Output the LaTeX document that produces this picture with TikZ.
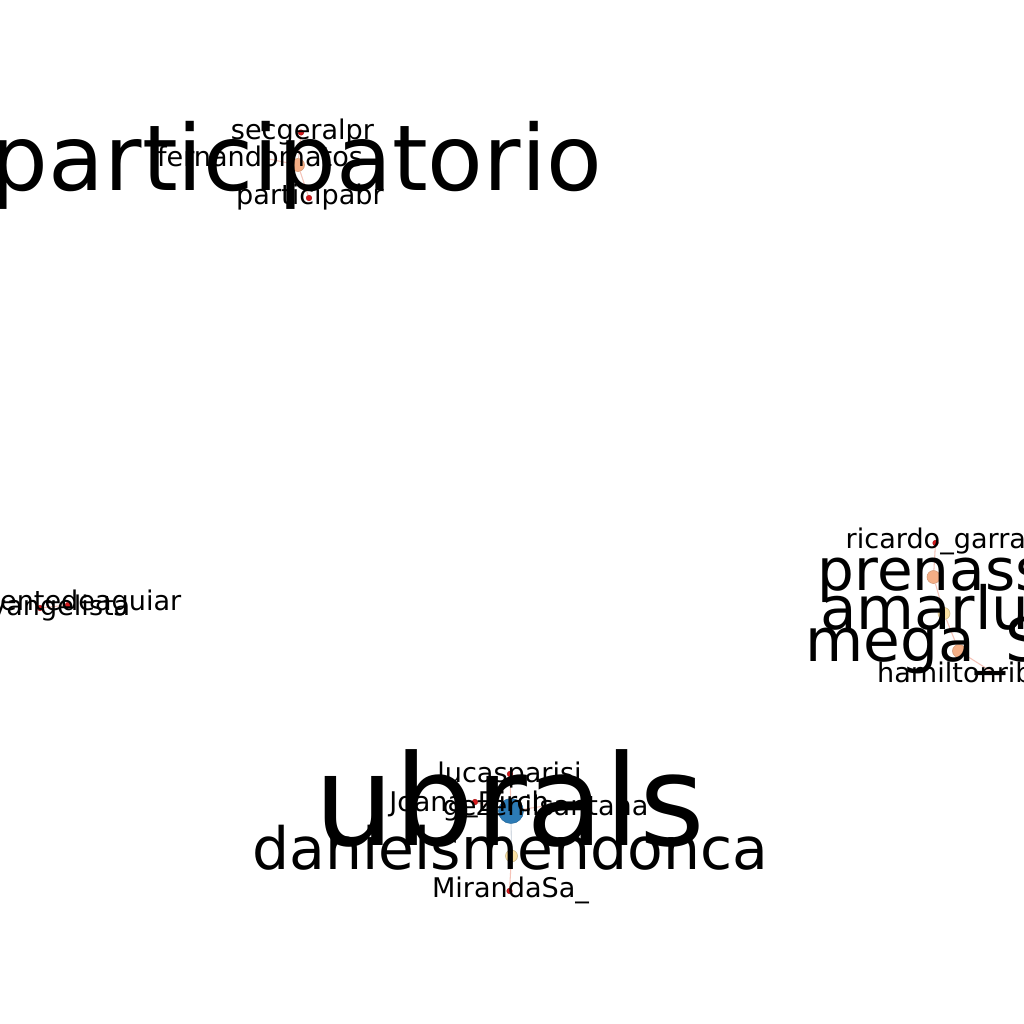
\documentclass[tikz,border=0pt]{standalone}
\usepackage{fontspec}
\setmainfont{DejaVu Sans}
\usepackage{tikz}
\definecolor{userred}{HTML}{D7191C}
\definecolor{userpeach}{HTML}{F4AE85}
\definecolor{usersand}{HTML}{FBE1A3}
\definecolor{userblue}{HTML}{2C7BB6}
\definecolor{edgepink}{HTML}{F5C3B8}
\definecolor{edgegray}{HTML}{D3DAE2}

\tikzset{
  user/.style={circle, inner sep=0pt, minimum size=#1, line width=0.15pt},
  redu/.style={user=0.055cm, fill=userred, draw=userred!80!black},
  peachu/.style={user=0.13cm, fill=userpeach, draw=userpeach!85!black},
  sandu/.style={user=0.12cm, fill=usersand, draw=usersand!80!black},
  blueu/.style={user=0.25cm, fill=userblue, draw=userblue!85!black},
  tie/.style={line width=0.3pt, edgepink},
  handle/.style={inner sep=0pt, anchor=base, font=\fontsize{#1}{#1}\selectfont},
  handle/.default=7.7pt
}

\begin{document}
\begin{tikzpicture}[x=0.01cm, y=-0.01cm]
\useasboundingbox (0,0) rectangle (1024,1024);
\fill[white] (0,0) rectangle (1024,1024);
\clip (0,0) rectangle (1024,1024);

% users
\node[peachu] (participatorio) at (298,165) {};
\node[redu] (secgeralpr) at (301,132.5) {};
\node[redu] (participabr) at (309,198) {};
\coordinate (fernandomatos) at (264,158);

\node[redu] (vicente) at (68,605) {};
\node[redu] (evangelista) at (40,608) {};

\node[redu] (ricardo) at (935.5,543) {};
\node[peachu] (prenass) at (933.5,577) {};
\node[sandu] (amarlu) at (944,613.5) {};
\node[peachu] (mega) at (959,651) {};
\coordinate (hamilton) at (992,672);

\node[blueu] (ubrals) at (511,811) {};
\node[redu] (lucasparisi) at (510,774) {};
\node[redu] (joana) at (475,802) {};
\coordinate (gezenil) at (545,806);
\node[sandu] (danielsmendonca) at (511.5,856) {};
\node[redu] (miranda) at (509.5,891) {};

% retweets
\draw[tie] (participatorio) -- (secgeralpr);
\draw[tie] (participatorio) -- (participabr);
\draw[tie] (participatorio) -- (fernandomatos);
\draw[tie] (vicente) -- (evangelista);
\draw[tie] (ricardo) -- (prenass);
\draw[tie] (prenass) -- (amarlu);
\draw[tie] (amarlu) -- (mega);
\draw[tie] (mega) -- (hamilton);
\draw[tie] (ubrals) -- (lucasparisi);
\draw[tie] (ubrals) -- (joana);
\draw[tie] (ubrals) -- (gezenil);
\draw[tie, edgegray] (ubrals) -- (danielsmendonca);
\draw[tie] (danielsmendonca) -- (miranda);

% names
\node[handle=25.9pt] (t-participatorio) at (296.5,190.5) {participatorio};
\node[handle] (t-secgeralpr) at (302.5,139) {secgeralpr};
\node[handle] (t-fernandomatos) at (260,166.5) {fernandomatos};
\node[handle] (t-participabr) at (310,204) {participabr};

\node[handle, anchor=base east] (t-vicente) at (182,610.5) {entedeaguiar};
\node[handle, anchor=base east] (t-evangelista) at (131,615.5) {vangelista};

\node[handle, anchor=base west] (t-ricardo) at (845,548.5) {ricardo\_garra};
\node[handle=16.5pt, anchor=base west] (t-prenass) at (817,590.5) {prenass};
\node[handle=16.9pt, anchor=base west] (t-amarlu) at (819.5,629.5) {amarlu};
\node[handle=17pt, anchor=base west] (t-mega) at (805,661) {mega\_S};
\node[handle, anchor=base west] (t-hamilton) at (876.5,682) {hamiltonrib};

\node[handle] (t-lucasparisi) at (509.5,782) {lucasparisi};
\node[handle] (t-joana) at (469,811) {Joana\_Dirch};
\node[handle] (t-gezenil) at (545.5,815) {gezenilsantana};
\node[handle=35.9pt] (t-ubrals) at (510,845) {ubrals};
\node[handle=16.6pt] (t-danielsmendonca) at (510.5,869.5) {danielsmendonca};
\node[handle] (t-miranda) at (510.5,897) {MirandaSa\_};
\end{tikzpicture}
\end{document}
